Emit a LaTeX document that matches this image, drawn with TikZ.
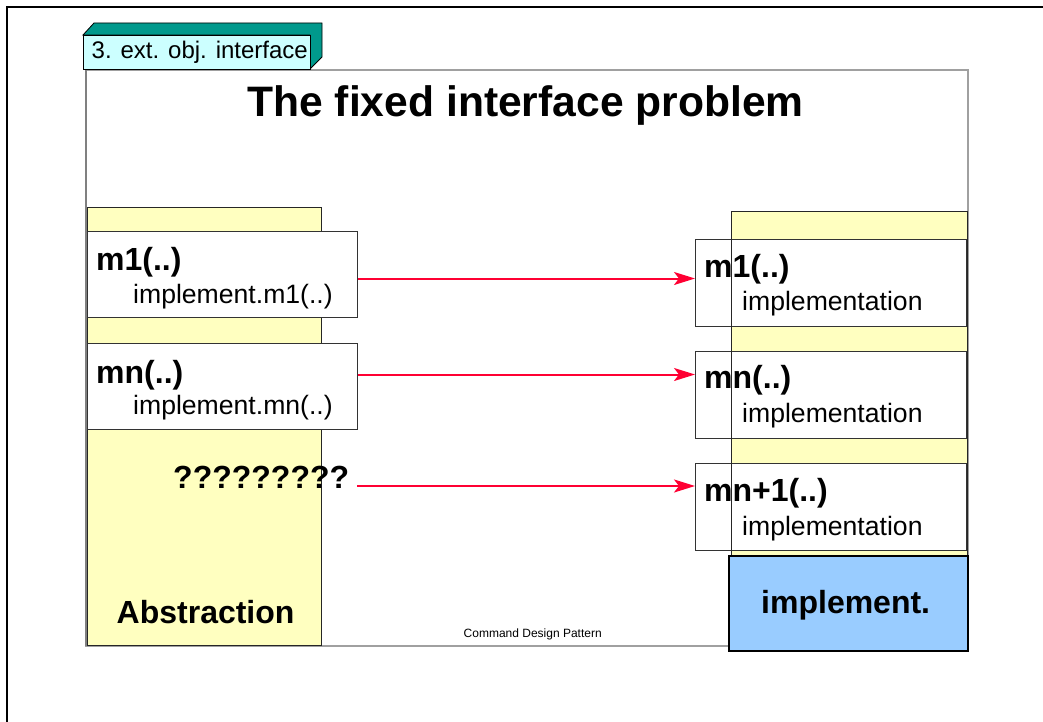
\documentclass[tikz,border=0pt]{standalone}
\usepackage{fontspec}
\setmainfont{Liberation Sans}
\usetikzlibrary{arrows.meta}
\definecolor{yel}{RGB}{255,255,192}
\definecolor{cyanf}{RGB}{204,255,255}
\definecolor{teal2}{RGB}{0,153,140}
\definecolor{blu}{RGB}{153,204,255}
\definecolor{redarr}{RGB}{255,0,51}
\definecolor{framegray}{RGB}{160,160,160}
\begin{document}
\begin{tikzpicture}[x=1pt,y=-1pt,
  colbox/.style={draw=black!85,line width=1pt,fill=yel,anchor=north west,inner sep=0pt},
  wbox/.style={draw=black!80,line width=1pt,fill=white,anchor=north west,inner sep=0pt},
  big/.style={font=\fontsize{32}{38}\selectfont\bfseries,anchor=base west,inner sep=0pt},
  small/.style={font=\fontsize{26.6}{31}\selectfont,anchor=base west,inner sep=0pt},
  arr/.style={draw=redarr,line width=2pt,-{Stealth[length=21pt,width=13pt,inset=5pt]}}]
\useasboundingbox (0,0) rectangle (1043,722);
% outer frame
\draw[line width=2.5pt] (7,722) -- (7,7) -- (1043,7);
% slide frame
\draw[framegray,line width=1.5pt] (86,70) rectangle (968,646);
\draw[gray,line width=2pt] (86,70) -- (86,646);
% tab
\draw[black,line width=0.8pt,fill=teal2] (83,35) -- (94,23) -- (322,23) -- (322,57) -- (310,69) -- (310,35) -- cycle;
\node[draw=black,line width=0.8pt,fill=cyanf,anchor=north west,minimum width=227pt,minimum height=34pt,inner sep=0pt] (tab) at (83,35) {};
\node[font=\fontsize{24}{28}\selectfont,anchor=base west,inner sep=0pt] (tabtxt) at (91.5,59) {3. ext. obj. interface};
% title
\node[font=\fontsize{42.6}{50}\selectfont\bfseries,anchor=base,inner sep=0pt] (title) at (525.5,117) {The fixed interface problem};
% left column
\node[colbox,minimum width=234pt,minimum height=438pt] (abscol) at (87,207) {};
\node[wbox,minimum width=270pt,minimum height=86pt] (lm1) at (87,231) {};
\node[wbox,minimum width=270pt,minimum height=86pt] (lmn) at (87,343) {};
% right column
\node[colbox,draw=none,minimum width=235pt,minimum height=434pt] (impcol) at (731,211) {};
\node[wbox,minimum width=271pt,minimum height=87pt] (rm1) at (695,238.5) {};
\node[wbox,minimum width=271pt,minimum height=87pt] (rmn) at (695,351) {};
\node[wbox,minimum width=271pt,minimum height=87pt] (rmn1) at (695,463) {};
\draw[black!85,line width=1pt] (impcol.south west) -- (impcol.north west) -- (impcol.north east) -- (impcol.south east);
\node[draw=black,line width=2pt,fill=blu,anchor=north west,minimum width=239pt,minimum height=95pt,inner sep=0pt] (blue) at (727.5,554.5) {};
% texts
\node[big] (t1) at (96,270) {m1(..)};
\node[small] (t1b) at (133,303) {implement.m1(..)};
\node[big] (t2) at (96,383) {mn(..)};
\node[small] (t2b) at (133,414) {implement.mn(..)};
\node[big] (q) at (173,488) {?????????};
\node[big] (abs) at (116.5,623) {Abstraction};
\node[big] (r1) at (704,277) {m1(..)};
\node[small] (r1b) at (742,310) {implementation};
\node[big] (r2) at (704,388) {mn(..)};
\node[small] (r2b) at (742,422.7) {implementation};
\node[big] (r3) at (704,501.5) {mn+1(..)};
\node[small] (r3b) at (742,535) {implementation};
\node[big] (imp) at (761,613) {implement.};
\node[font=\fontsize{12}{14}\selectfont,anchor=base west,inner sep=0pt] (foot) at (463.5,637) {Command Design Pattern};
% arrows
\coordinate (q3) at (357,486);
\draw[arr] ([yshift=-4pt]lm1.east) -- ([yshift=4pt]rm1.west);
\draw[arr] ([yshift=12pt]lmn.east) -- ([yshift=20.5pt]rmn.west);
\draw[arr] (q3) -- (q3 -| rmn1.west);
\end{tikzpicture}
\end{document}
